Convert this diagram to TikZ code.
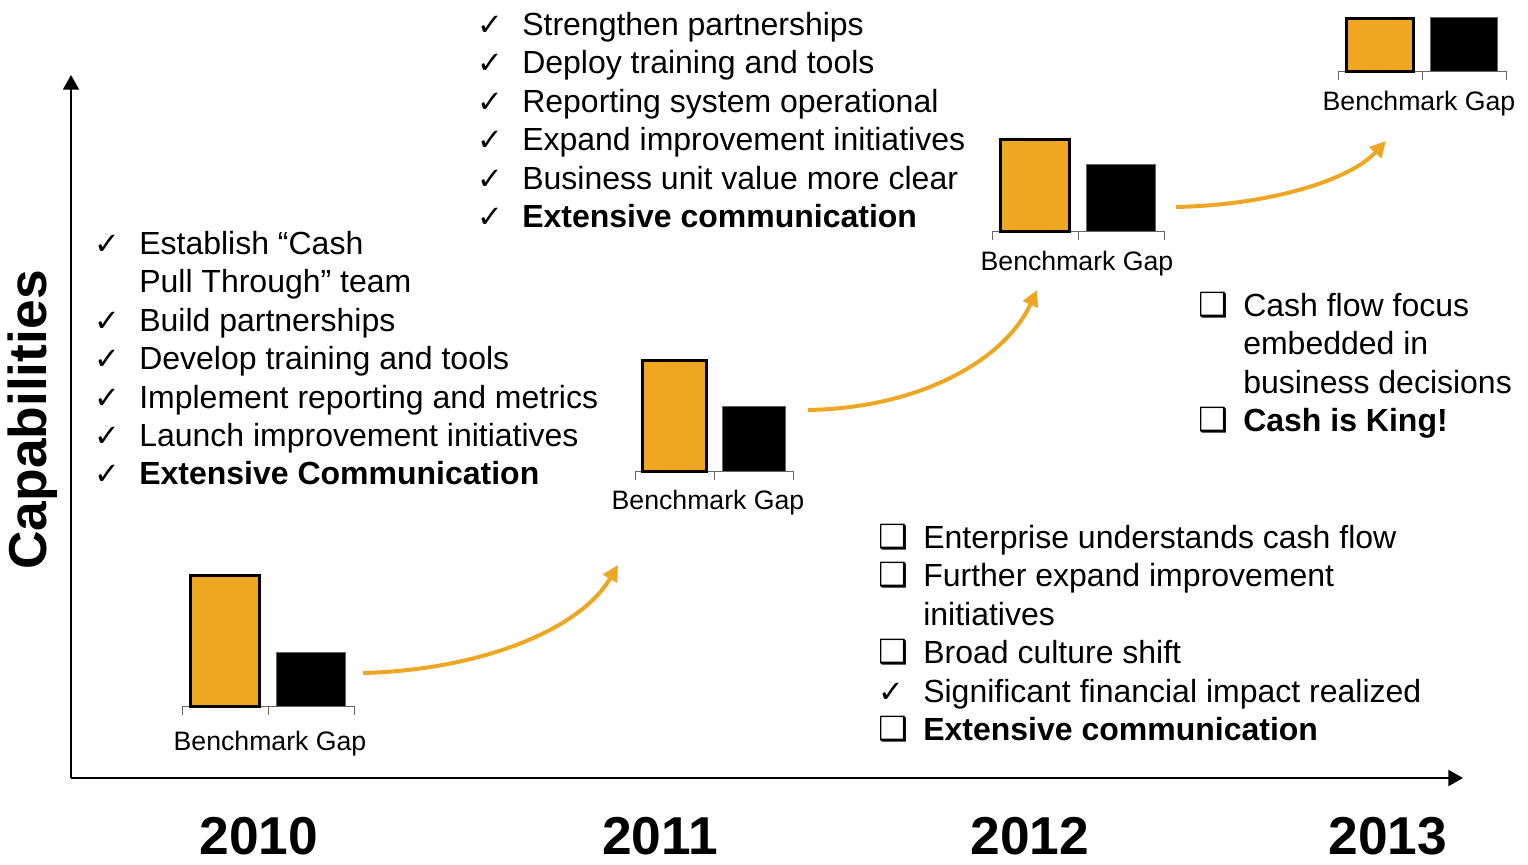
\documentclass[tikz,border=0pt]{standalone}
\usepackage{fontspec}
\setmainfont{Liberation Sans}
\newfontfamily\symfont{DejaVu Sans}
\usepackage{tikz}
\usetikzlibrary{arrows.meta,positioning}
\definecolor{gold}{RGB}{237,167,34}
\newcommand{\ck}{\makebox[33.75pt][l]{\symfont\fontsize{23}{23}\selectfont ✓}}
\newcommand{\bx}{\makebox[33.75pt][l]{\symfont\fontsize{25}{25}\selectfont ❑}}
\newcommand{\ind}{\hspace*{33.75pt}}
\tikzset{
  axis/.style={line width=1.5pt,-{Triangle[length=11pt,width=12pt]}},
  growth/.style={gold,line width=3pt,-{Triangle[length=12pt,width=12pt]}},
  goldbar/.style={fill=gold,draw=black,line width=2.25pt},
  blackbar/.style={fill=black,draw=black!60,line width=0.5pt},
  bench/.style={font=\fontsize{20}{24}\selectfont,inner sep=0pt},
  yearlabel/.style={font=\bfseries\fontsize{40}{48}\selectfont,inner sep=0pt},
  itemlist/.style={align=left,anchor=north west,inner sep=0pt,font=\fontsize{24}{28.8}\selectfont}
}
\begin{document}
\begin{tikzpicture}[x=0.75pt,y=-0.75pt]
\useasboundingbox (0,0) rectangle (1528,864);
% axes
\coordinate (o) at (71,778);
\coordinate (ytop) at (71,75);
\coordinate (xend) at (1463,778);
\draw[axis] (o) -- (ytop);
\draw[axis] (o) -- (xend);
\node[rotate=90,font=\bfseries\fontsize{40}{48}\selectfont,inner sep=0pt] (cap) at (33,420) {Capabilities};
% years
\node[yearlabel] (y2010) at (259,836) {2010};
\node[yearlabel] (y2011) at (660,836) {2011};
\node[yearlabel] (y2012) at (1030,836) {2012};
\node[yearlabel] (y2013) at (1388,836) {2013};
% bar charts
\foreach \n/\t/\w/\b/\o/\k/\lx/\ly in {1/182/86/706/575/652/270/744,2/635/79/471/360/406/708/503,3/992/86/231/139/164/1077/264,4/1338/84/71/18/17/1419/104}{
  \draw[black!60,line width=0.75pt] (\t,\b+9) -- (\t,\b) -- (\t+2*\w,\b) -- (\t+2*\w,\b+9) (\t+\w,\b) -- (\t+\w,\b+9);
  \draw[blackbar] (\t+1.1*\w,\b) rectangle (\t+1.9*\w,\k);
  \draw[goldbar] (\t+0.1*\w,\b) rectangle (\t+0.9*\w,\o);
  \node[bench] (gap\n) at (\lx,\ly) {Benchmark Gap};
}
% growth arrows
\coordinate (s1) at (363,673);
\coordinate (e1) at (618,565);
\coordinate (s2) at (808,410);
\coordinate (e2) at (1037,290);
\coordinate (s3) at (1176,207);
\coordinate (e3) at (1386,141);
\draw[growth] (s1) .. controls +(117,-3) and +(-38,65) .. (e1);
\draw[growth] (s2) .. controls +(112,-2) and +(-32,70) .. (e2);
\draw[growth] (s3) .. controls +(94,-2) and +(-36,39) .. (e3);
% lists
\node[itemlist] (l2010) at (94,231) {\ck Establish “Cash\\
\ind Pull Through” team\\
\ck Build partnerships\\
\ck Develop training and tools\\
\ck Implement reporting and metrics\\
\ck Launch improvement initiatives\\
\ck\textbf{Extensive Communication}};
\node[itemlist] (l2011) at (477,12) {\ck Strengthen partnerships\\
\ck Deploy training and tools\\
\ck Reporting system operational\\
\ck Expand improvement initiatives\\
\ck Business unit value more clear\\
\ck\textbf{Extensive communication}};
\node[itemlist] (l2012) at (878,524) {\bx Enterprise understands cash flow\\
\bx Further expand improvement\\
\ind initiatives\\
\bx Broad culture shift\\
\ck Significant financial impact realized\\
\bx\textbf{Extensive communication}};
\node[itemlist] (l2013) at (1198,292) {\bx Cash flow focus\\
\ind embedded in\\
\ind business decisions\\
\bx\textbf{Cash is King!}};
\end{tikzpicture}
\end{document}
